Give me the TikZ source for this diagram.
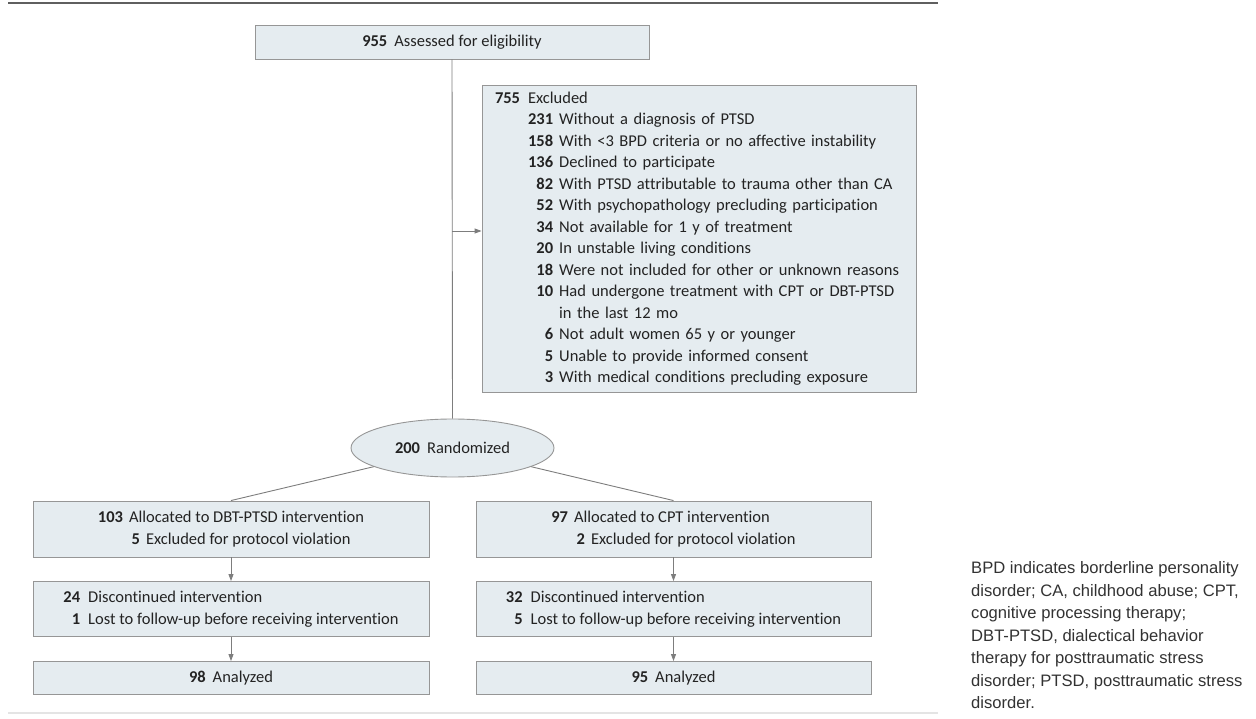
\documentclass[tikz,border=0pt]{standalone}
\usepackage{fontspec}
\setmainfont{Carlito}[Ligatures=NoCommon]
\newfontfamily\legendfont{Liberation Sans}
\usetikzlibrary{arrows.meta,shapes.geometric}
\definecolor{boxfill}{RGB}{229,236,240}
\definecolor{boxline}{RGB}{150,150,150}
\definecolor{connc}{RGB}{125,125,125}
\definecolor{txt}{RGB}{35,35,35}
\definecolor{legtxt}{RGB}{50,50,50}
\definecolor{toprule}{RGB}{95,95,95}
\definecolor{lightrule}{RGB}{228,228,228}
\newcommand{\nb}[1]{\textbf{#1}}
\newcommand{\subnum}[1]{\makebox[11pt][r]{\textbf{#1}}\hspace{6pt}}
\begin{document}
\begin{tikzpicture}[x=1pt,y=-1pt,
  box/.style={draw=boxline, fill=boxfill, line width=0.9pt, rectangle, inner sep=0pt,
    text=txt, font=\fontsize{16.5}{22}\selectfont},
  oval/.style={box, ellipse},
  conn/.style={draw=connc, line width=0.9pt},
  arr/.style={conn, -{Triangle[length=7pt,width=5pt]}},
  legend/.style={text=legtxt, font=\legendfont\fontsize{16.6}{22.5}\selectfont, align=left, inner sep=0pt}]
\useasboundingbox (0,0) rectangle (1256,719);
\draw[toprule, line width=1.6pt] (8,3) -- (938,3);
\draw[lightrule, line width=2pt] (8,713) -- (938,713);

\node[box, minimum width=394pt, minimum height=34pt] (assess) at (452,42)
  {\nb{955}\hspace{7pt}Assessed for eligibility};

\node[box, text width=408pt, inner xsep=13pt, minimum height=307pt, align=left,
  font=\fontsize{16.5}{21.5}\selectfont] (excl) at (699,238.5)
  {\begin{tabular}{@{}r@{\hspace{8pt}}r@{\hspace{6pt}}l@{}}
   \nb{755} & \multicolumn{2}{@{}l@{}}{Excluded}\\
   & \nb{231} & Without a diagnosis of PTSD\\
   & \nb{158} & With <3 BPD criteria or no affective instability\\
   & \nb{136} & Declined to participate\\
   & \nb{82} & With PTSD attributable to trauma other than CA\\
   & \nb{52} & With psychopathology precluding participation\\
   & \nb{34} & Not available for 1 y of treatment\\
   & \nb{20} & In unstable living conditions\\
   & \nb{18} & Were not included for other or unknown reasons\\
   & \nb{10} & Had undergone treatment with CPT or DBT-PTSD\\
   & & in the last 12 mo\\
   & \nb{6} & Not adult women 65 y or younger\\
   & \nb{5} & Unable to provide informed consent\\
   & \nb{3} & With medical conditions precluding exposure
   \end{tabular}};

\node[oval, minimum width=203pt, minimum height=58pt] (rand) at (452.5,448)
  {\nb{200}\hspace{7pt}Randomized};

\node[box, minimum width=396pt, minimum height=56pt] (dbt1) at (231,529)
  {\begin{tabular}{@{}r@{\hspace{6pt}}l@{}}
   \nb{103} & Allocated to DBT-PTSD intervention\\
   & \subnum{5}Excluded for protocol violation
   \end{tabular}};
\node[box, minimum width=395pt, minimum height=56pt] (cpt1) at (673.5,529)
  {\begin{tabular}{@{}r@{\hspace{6pt}}l@{}}
   \nb{97} & Allocated to CPT intervention\\
   & \subnum{2}Excluded for protocol violation
   \end{tabular}};

\node[box, minimum width=396pt, minimum height=55pt] (dbt2) at (231,609)
  {\begin{tabular}{@{}r@{\hspace{8pt}}l@{}}
   \nb{24} & Discontinued intervention\\
   \nb{1} & Lost to follow-up before receiving intervention
   \end{tabular}};
\node[box, minimum width=395pt, minimum height=55pt] (cpt2) at (673.5,609)
  {\begin{tabular}{@{}r@{\hspace{8pt}}l@{}}
   \nb{32} & Discontinued intervention\\
   \nb{5} & Lost to follow-up before receiving intervention
   \end{tabular}};

\node[box, minimum width=396pt, minimum height=33pt] (dbt3) at (231,678)
  {\nb{98}\hspace{7pt}Analyzed};
\node[box, minimum width=395pt, minimum height=33pt] (cpt3) at (673.5,678)
  {\nb{95}\hspace{7pt}Analyzed};

\node[legend, anchor=west] (leg) at (971,635.5)
  {BPD indicates borderline personality\\
   disorder; CA, childhood abuse; CPT,\\
   cognitive processing therapy;\\
   DBT-PTSD, dialectical behavior\\
   therapy for posttraumatic stress\\
   disorder; PTSD, posttraumatic stress\\
   disorder.};

\draw[conn] (assess.south) -- (rand.north);
\coordinate (branch) at (452,231);
\draw[arr] (branch) -- (branch -| excl.west);
\draw[conn] (rand) -- (dbt1.north);
\draw[conn] (rand) -- (cpt1.north);
\draw[arr] (dbt1.south) -- (dbt2.north);
\draw[arr] (dbt2.south) -- (dbt3.north);
\draw[arr] (cpt1.south) -- (cpt2.north);
\draw[arr] (cpt2.south) -- (cpt3.north);
\end{tikzpicture}
\end{document}
